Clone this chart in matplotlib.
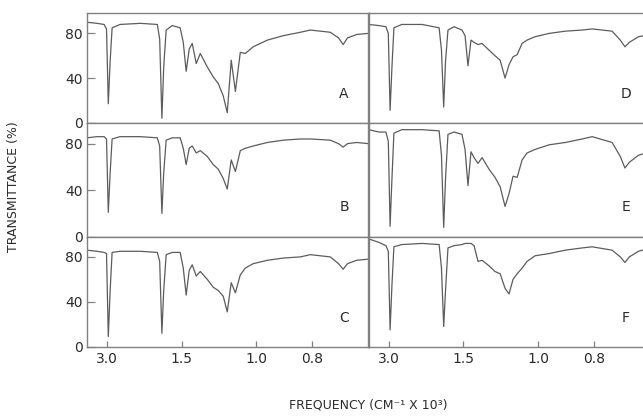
import numpy as np
import matplotlib
matplotlib.use('Agg')
import matplotlib.pyplot as plt
from matplotlib.ticker import NullLocator

# frequency grid (cm^-1 x 10^3) shared by all six spectra
freq = [4.080, 3.450, 3.110, 3.010, 2.940, 2.870, 2.800, 2.550, 2.070, 1.790,
        1.757, 1.727, 1.703, 1.672, 1.600, 1.514, 1.483, 1.455, 1.427, 1.400,
        1.366, 1.333, 1.280, 1.238, 1.204, 1.173, 1.149, 1.126, 1.103, 1.077,
        1.052, 1.014, 0.953, 0.892, 0.836, 0.806, 0.752, 0.732, 0.721, 0.711,
        0.691, 0.667]

# transmittance (%)
trans_a = [90, 89, 88, 84, 17, 55, 85, 88, 89, 88, 75, 4, 50, 83, 87, 85, 72, 46, 66, 71,
           53, 62, 50, 41, 35, 24, 9, 56, 28, 63, 62, 68, 74, 78, 81, 83, 81, 76, 70, 76, 79, 80]
trans_b = [85, 86, 86, 84, 21, 55, 84, 86, 86, 85, 78, 20, 55, 83, 85, 85, 76, 62, 76, 78,
           72, 74, 69, 62, 58, 50, 41, 66, 56, 74, 76, 78, 81, 83, 84, 84, 83, 80, 77, 80, 81, 80]
trans_c = [86, 85, 84, 83, 9, 50, 84, 85, 85, 84, 76, 12, 50, 82, 84, 84, 70, 46, 68, 73,
           63, 67, 60, 53, 50, 45, 31, 57, 48, 64, 70, 74, 77, 79, 80, 82, 80, 74, 69, 74, 77, 78]
trans_d = [88, 87, 86, 80, 11, 50, 85, 88, 88, 85, 65, 14, 55, 83, 86, 83, 78, 51, 74, 72,
           70, 71, 65, 60, 56, 40, 52, 59, 61, 71, 74, 77, 80, 82, 83, 84, 82, 74, 68, 72, 77, 79]
trans_e = [92, 90, 90, 82, 9, 50, 89, 92, 92, 91, 70, 8, 50, 88, 90, 88, 75, 44, 73, 68,
           63, 68, 58, 51, 43, 26, 37, 52, 51, 66, 72, 75, 79, 81, 84, 86, 81, 69, 59, 64, 70, 73]
trans_f = [96, 93, 90, 85, 15, 55, 89, 91, 92, 91, 70, 18, 50, 88, 90, 91, 92, 92, 92, 90,
           76, 77, 72, 67, 65, 52, 47, 60, 65, 70, 76, 81, 83, 86, 88, 89, 86, 80, 75, 80, 85, 88]

panel_names = ['A', 'B', 'C', 'D', 'E', 'F']
panel_data = [trans_a, trans_b, trans_c, trans_d, trans_e, trans_f]

xtick_vals = [3.0, 1.5, 1.0, 0.8]
xtick_labels = ['3.0', '1.5', '1.0', '0.8']
ytick_vals = [0, 40, 80]


# chart paper is linear in wavelength, so the frequency axis is 10/f
def wavelength(f):
    f = np.asarray(f, dtype=float)
    with np.errstate(divide='ignore'):
        return 10.0 / f


line_col = '#5c5c5c'
frame_col = '#808080'
text_col = '#2b2b2b'

W, H = 643.0, 420.0
fig = plt.figure(figsize=(W / 100, H / 100), dpi=100)

col_left = [86.7, 368.5]
col_w = 281.8
row_edges = [13.3, 122.7, 236.7, 346.7]

for k in range(6):
    col = k // 3
    row = k % 3
    top, bot = row_edges[row], row_edges[row + 1]
    ax = fig.add_axes([col_left[col] / W, 1 - bot / H, col_w / W, (bot - top) / H])
    ax.plot(freq, panel_data[k], color=line_col, lw=0.9)
    ax.set_xscale('function', functions=(wavelength, wavelength))
    ax.set_xlim(0.6667, 4.1)
    ax.set_ylim(0, 98)
    ax.set_xticks(xtick_vals)
    ax.set_xticklabels(xtick_labels)
    ax.set_yticks(ytick_vals)
    ax.xaxis.set_minor_locator(NullLocator())
    ax.yaxis.set_minor_locator(NullLocator())
    for s in ax.spines.values():
        s.set_color(frame_col)
        s.set_linewidth(1.0)
    ax.tick_params(direction='in', color=frame_col, width=0.9, labelsize=10,
                   labelcolor=text_col)
    ax.tick_params(axis='y', length=6, pad=3, left=(col == 0), labelleft=(col == 0))
    ax.tick_params(axis='x', length=4, pad=4, bottom=(row == 2), labelbottom=(row == 2))
    ax.text(0.913, 0.26, panel_names[k], transform=ax.transAxes, ha='center',
            va='center', fontsize=10, color=text_col)

fig.text(14 / W, 1 - 187 / H, 'TRANSMITTANCE (%)', rotation=90, ha='center',
         va='center', fontsize=9, color=text_col)
fig.text(368 / W, 1 - 405 / H, 'FREQUENCY (CM⁻¹ X 10³)', ha='center', va='center',
         fontsize=9, color=text_col)

fig.savefig('out.png', dpi=100)
